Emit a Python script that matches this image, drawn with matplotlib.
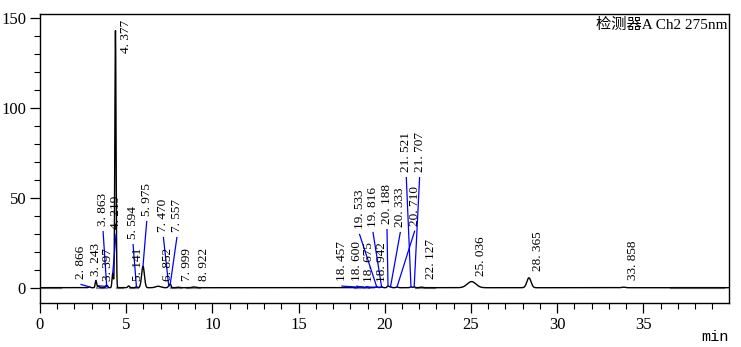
import numpy as np
import matplotlib.pyplot as plt
from matplotlib.ticker import MultipleLocator

# peak table: retention time (min), height (mV), width (min)
rt = [2.866, 3.243, 3.397, 3.863, 4.219, 4.377, 5.141, 5.594, 5.975, 6.852,
      7.470, 7.557, 7.999, 8.922, 18.457, 18.600, 18.675, 18.942, 19.533,
      19.816, 20.188, 20.333, 20.710, 21.521, 21.707, 22.127, 25.036, 28.365,
      33.858]
heights = [0.5, 4.0, 1.0, 1.5, 8.0, 143.0, 1.0, 0.5, 12.0, 0.8,
           0.8, 2.0, 0.3, 0.4, 0.3, 0.3, 0.3, 0.4, 0.5,
           0.5, 1.0, 0.5, 0.4, 0.5, 0.5, 0.3, 3.4, 5.5,
           0.3]
widths = [0.05, 0.04, 0.05, 0.05, 0.04, 0.035, 0.05, 0.05, 0.08, 0.15,
          0.05, 0.04, 0.08, 0.1, 0.06, 0.06, 0.06, 0.06, 0.06,
          0.06, 0.05, 0.06, 0.06, 0.05, 0.05, 0.08, 0.25, 0.12,
          0.1]

# where each retention-time label sits (x in min, bottom y in mV)
label_x = [2.38, 3.25, 3.95, 3.66, 4.41, 4.99, 5.69, 5.40, 6.19, 7.43,
           7.16, 7.94, 8.52, 9.52, 17.52, 18.39, 19.06, 19.84, 18.54,
           19.32, 20.13, 20.90, 21.73, 21.25, 22.02, 22.70, 25.60, 28.89,
           34.39]
label_y = [4.8, 6.5, 3.7, 34.2, 32.6, 130.7, 3.7, 27.0, 39.8, 3.7,
           30.9, 30.9, 3.7, 3.7, 3.9, 3.9, 3.2, 3.2, 32.6,
           33.7, 35.3, 33.7, 34.4, 64.2, 64.2, 4.8, 6.7, 9.4,
           4.3]
leader = [1, 1, 1, 1, 1, 0, 0, 1, 1, 0,
          1, 1, 0, 0, 1, 1, 1, 1, 1,
          1, 1, 1, 1, 1, 1, 0, 0, 0,
          0]

baseline_segs = [(0.0, 1.2), (3.3, 3.9), (4.45, 4.8), (5.2, 5.7), (7.6, 8.2),
                 (8.5, 9.3), (18.3, 19.1), (21.8, 22.9), (36.6, 39.7)]

t = np.linspace(0, 40, 16000)
signal = np.zeros_like(t)
for r, h, w in zip(rt, heights, widths):
    signal += h * np.exp(-0.5 * ((t - r) / w) ** 2)

fig = plt.figure(figsize=(7.41, 3.47), dpi=100)
ax = fig.add_axes([40 / 741, 1 - 303 / 347, 689 / 741, 289 / 347])

for a, b in baseline_segs:
    ax.plot([a, b], [0, 0], color="#8c8c8c", lw=1.6, zorder=1)
ax.plot(t, signal, color="black", lw=1.0, zorder=2)

for r, h, lx, ly, ld in zip(rt, heights, label_x, label_y, leader):
    if ld:
        ax.plot([lx, r], [ly - 3.0, h], color="blue", lw=0.9, zorder=3)
    ax.text(lx, ly, f"{r:.3f}".replace(".", ". "), rotation=90, ha="center",
            va="bottom", fontsize=9.5, family="Liberation Serif", zorder=4)

ax.set_xlim(0, 39.97)
ax.set_ylim(-8.5, 152.2)
ax.xaxis.set_major_locator(MultipleLocator(5))
ax.xaxis.set_minor_locator(MultipleLocator(1))
ax.yaxis.set_major_locator(MultipleLocator(50))
ax.yaxis.set_minor_locator(MultipleLocator(10))
ax.tick_params(which="major", direction="out", length=7, width=0.9,
               labelsize=12, pad=3)
ax.tick_params(which="minor", direction="out", length=4, width=0.8)
for lab in ax.get_xticklabels() + ax.get_yticklabels():
    lab.set_family("Liberation Serif")
for s in ax.spines.values():
    s.set_linewidth(1.0)

ax.text(0.998, 0.988, "检测器A Ch2 275nm", transform=ax.transAxes, ha="right",
        va="top", fontsize=11, family=["Liberation Serif", "Noto Sans CJK SC"])
fig.text(729 / 741, 1 - 337 / 347, "min", ha="right", va="center",
         fontsize=11, family="Liberation Mono")

fig.savefig("out.png", dpi=100)
